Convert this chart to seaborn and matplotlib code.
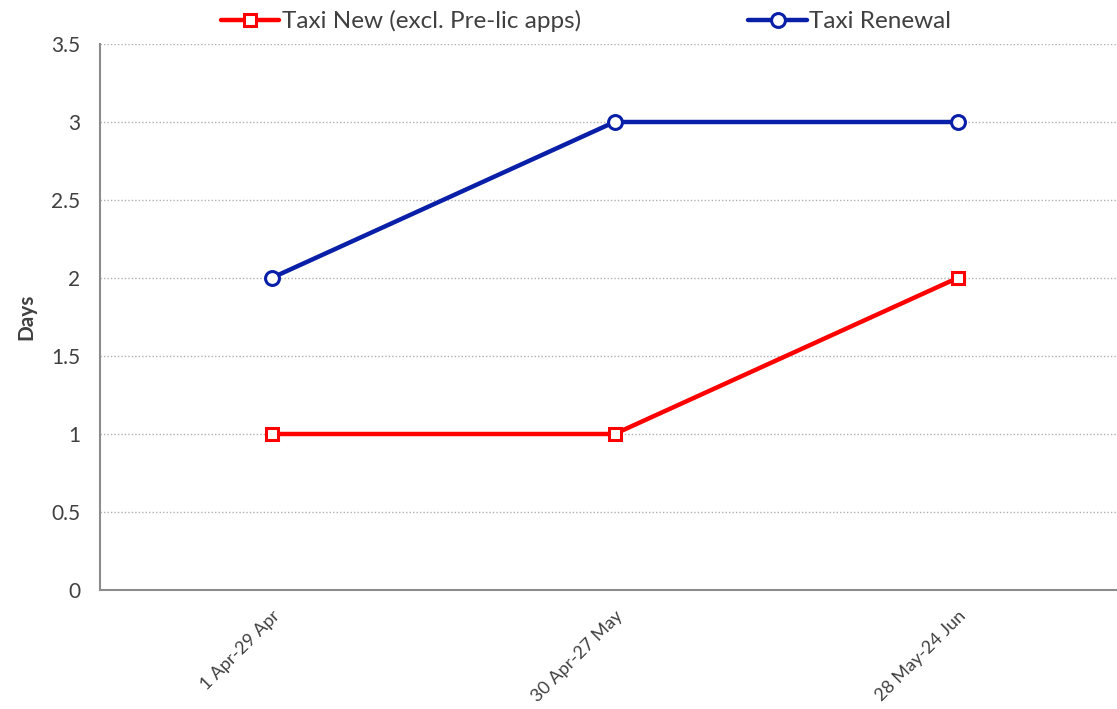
import matplotlib
matplotlib.use("Agg")
import matplotlib.pyplot as plt
import seaborn as sns
import pandas as pd

################################# data #####################################

periods = ["1 Apr-29 Apr", "30 Apr-27 May", "28 May-24 Jun"]
taxi_new = [1, 1, 2]
taxi_renewal = [2, 3, 3]
y_ticks = [0, 0.5, 1, 1.5, 2, 2.5, 3, 3.5]
y_labels = ["0", "0.5", "1", "1.5", "2", "2.5", "3", "3.5"]

################################# plot #####################################

sns.set_style("white")
plt.rcParams["font.family"] = ["Lato", "DejaVu Sans"]
text_col = "#404040"
axis_col = "#8c8c8c"

df = pd.DataFrame({"x": range(len(periods)), "new": taxi_new, "renewal": taxi_renewal})

fig = plt.figure(figsize=(11.17, 7.09), dpi=100)
ax = fig.add_axes([100 / 1117, 1 - 590 / 709, 1029 / 1117, 546 / 709])

sns.lineplot(data=df, x="x", y="new", ax=ax, color="#ff0000", lw=3.2,
             marker="s", markersize=9, markerfacecolor="white",
             markeredgecolor="#ff0000", markeredgewidth=2.2,
             label="Taxi New (excl. Pre-lic apps)")
sns.lineplot(data=df, x="x", y="renewal", ax=ax, color="#0a1fa8", lw=3.2,
             marker="o", markersize=10, markerfacecolor="white",
             markeredgecolor="#0a1fa8", markeredgewidth=2.2,
             label="Taxi Renewal")

ax.set_xlim(-0.5, 2.5)
ax.set_ylim(0, 3.5)
ax.set_yticks(y_ticks)
ax.set_yticklabels(y_labels)
for y in y_ticks[1:]:
    ax.axhline(y, color="#b0b0b0", lw=1, ls=(0, (1, 1.5)), zorder=0)

ax.set_xticks([-0.5, 0.5, 1.5, 2.5])
ax.set_xticklabels([])
ax.set_xticks(range(len(periods)), minor=True)
ax.set_xticklabels(periods, minor=True, rotation=45, ha="right",
                   rotation_mode="anchor", fontsize=13, color=text_col)
ax.tick_params(axis="x", which="minor", length=0, pad=13)
ax.tick_params(axis="x", which="major", length=6, width=1, color=axis_col, direction="out")
ax.tick_params(axis="y", length=6, width=1, color=axis_col, direction="out",
               labelsize=15, labelcolor=text_col, pad=8)

for s in ["top", "right"]:
    ax.spines[s].set_visible(False)
for s in ["left", "bottom"]:
    ax.spines[s].set_color(axis_col)
    ax.spines[s].set_linewidth(1.5)

ax.set_xlabel("")
ax.set_ylabel("Days", fontsize=15, fontweight="bold", color=text_col, labelpad=11)

ax.legend(loc="center", bbox_to_anchor=(586 / 1029 - 100 / 1029, 1 + 23 / 546), ncol=2,
          frameon=False, fontsize=17.5, handlelength=2.4, handletextpad=0.1,
          columnspacing=6.9, labelcolor=text_col, borderpad=0)

plt.savefig("out.png", dpi=100)
